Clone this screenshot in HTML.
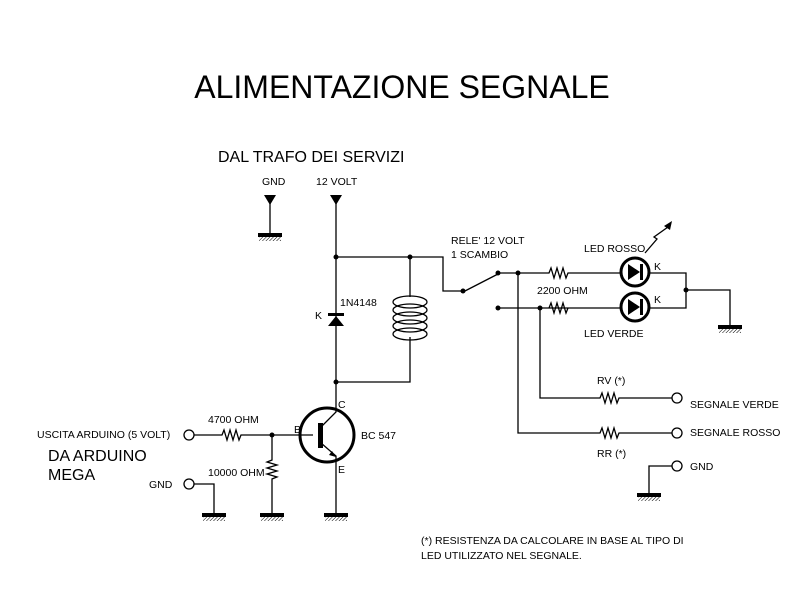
<!DOCTYPE html>
<html><head><meta charset="utf-8"><style>
html,body{margin:0;padding:0;background:#fff;width:800px;height:600px;overflow:hidden}
text{font-family:"Liberation Sans",sans-serif;fill:#000}
.s{font-size:10.5px}
</style></head><body>
<svg width="800" height="600" viewBox="0 0 800 600" xmlns="http://www.w3.org/2000/svg">
<defs>
<pattern id="h" width="2.5" height="2.5" patternUnits="userSpaceOnUse" patternTransform="rotate(45)">
<line x1="0" y1="0" x2="0" y2="2.5" stroke="#000" stroke-width="1"/>
</pattern>
<g id="gnd"><rect x="-12" y="0" width="24" height="4" fill="#000"/><rect x="-11" y="4" width="22" height="4" fill="url(#h)"/></g>
</defs>
<text x="402" y="98" font-size="32" text-anchor="middle">ALIMENTAZIONE SEGNALE</text>
<text x="218" y="162" font-size="16">DAL TRAFO DEI SERVIZI</text>
<g fill="none" stroke="#000" stroke-width="1.3">
<path d="M270 195V233 M336 195V382"/>
<path d="M336 257H443V291H463 M463 292L498 274"/>
<path d="M410 257V297 M410 337V382H336"/>
<ellipse cx="410" cy="302" rx="17" ry="6"/><ellipse cx="410" cy="310" rx="17" ry="6"/><ellipse cx="410" cy="318" rx="17" ry="6"/><ellipse cx="410" cy="326" rx="17" ry="6"/><ellipse cx="410" cy="334" rx="17" ry="6"/>
<path d="M498 273H549 l2 -5 l3 10 l3 -10 l3 10 l3 -10 l3 10 l2 -5 H620 M650 273H686V308H650 M620 308H549 l2 -5 l3 10 l3 -10 l3 10 l3 -10 l3 10 l2 -5 H498 M686 290H730V325"/>
<path d="M518 273V433H600 l2 -5 l3 10 l3 -10 l3 10 l3 -10 l3 10 l2 -5 H672"/>
<path d="M540 308V398H600 l2 -5 l3 10 l3 -10 l3 10 l3 -10 l3 10 l2 -5 H672"/>
<path d="M672 466H649V493"/>
<circle cx="677" cy="398" r="5"/><circle cx="677" cy="433" r="5"/><circle cx="677" cy="466" r="5"/>
<path d="M645 253l12 -14l-3 -2l14 -10"/>
<path d="M194 435H222 l2 -5 l3 10 l3 -10 l3 10 l3 -10 l3 10 l2 -5 H313"/>
<path d="M272 435V460 l-5 2 l10 3 l-10 3 l10 3 l-10 3 l10 3 l-5 2 V513"/>
<path d="M194 484H214V513"/>
<circle cx="189" cy="435" r="5"/><circle cx="189" cy="484" r="5"/>
<path d="M336 382V412L321 427 M321 443L336 456V513"/>
</g>
<circle cx="327" cy="435" r="27" fill="none" stroke="#000" stroke-width="3"/>
<rect x="318" y="423" width="5" height="25" fill="#000"/>
<path d="M336 457l-7 -2l3 -4z" fill="#000"/>
<path d="M264 195h12l-6 10z M330 195h12l-6 10z" fill="#000"/>
<rect x="328" y="313" width="16" height="3" fill="#000"/>
<path d="M336 316l-8 10h16z" fill="#000"/>
<circle cx="635" cy="272" r="14" fill="none" stroke="#000" stroke-width="3"/>
<circle cx="635" cy="307" r="14" fill="none" stroke="#000" stroke-width="3"/>
<path d="M628 264v16l12 -8z M628 299v16l12 -8z" fill="#000"/><rect x="640" y="264" width="3" height="16" fill="#000"/><rect x="640" y="299" width="3" height="16" fill="#000"/>
<path d="M672 221l-8 5l6 4z" fill="#000"/>
<g fill="#000">
<circle cx="336" cy="257" r="2.5"/><circle cx="410" cy="257" r="2.5"/><circle cx="336" cy="382" r="2.5"/>
<circle cx="463" cy="291" r="2.5"/><circle cx="498" cy="273" r="2.5"/><circle cx="498" cy="308" r="2.5"/>
<circle cx="518" cy="273" r="2.5"/><circle cx="540" cy="308" r="2.5"/><circle cx="686" cy="290" r="2.5"/>
<circle cx="272" cy="435" r="2.5"/>
</g>
<use href="#gnd" x="270" y="233"/><use href="#gnd" x="730" y="325"/><use href="#gnd" x="649" y="493"/>
<use href="#gnd" x="214" y="513"/><use href="#gnd" x="272" y="513"/><use href="#gnd" x="336" y="513"/>
<g class="s">
<text x="262" y="185">GND</text><text x="316" y="185">12 VOLT</text>
<text x="340" y="306">1N4148</text><text x="315" y="319">K</text>
<text x="451" y="244">RELE' 12 VOLT</text><text x="451" y="258">1 SCAMBIO</text>
<text x="584" y="252">LED ROSSO</text><text x="537" y="294">2200 OHM</text><text x="584" y="337">LED VERDE</text>
<text x="654" y="270">K</text><text x="654" y="303">K</text>
<text x="597" y="384">RV (*)</text><text x="597" y="457">RR (*)</text>
<text x="690" y="408">SEGNALE VERDE</text><text x="690" y="436">SEGNALE ROSSO</text><text x="690" y="470">GND</text>
<text x="208" y="423">4700 OHM</text><text x="208" y="476">10000 OHM</text>
<text x="294" y="433">B</text><text x="338" y="408">C</text><text x="338" y="473">E</text><text x="361" y="439">BC 547</text>
<text x="37" y="438">USCITA ARDUINO (5 VOLT)</text><text x="149" y="488">GND</text>
<text x="421" y="544">(*) RESISTENZA DA CALCOLARE IN BASE AL TIPO DI</text>
<text x="421" y="559">LED UTILIZZATO NEL SEGNALE.</text>
</g>
<text x="48" y="461" font-size="16">DA ARDUINO</text><text x="48" y="480" font-size="16">MEGA</text>
</svg>
</body></html>
